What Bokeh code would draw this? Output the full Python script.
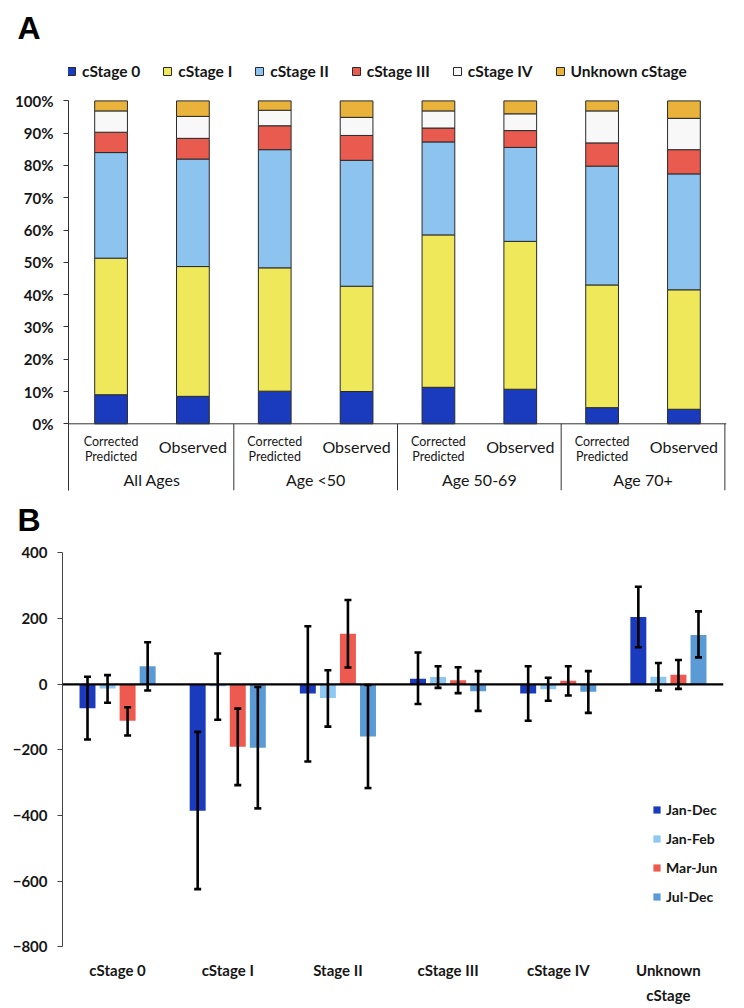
from bokeh.plotting import figure
from bokeh.models import (FactorRange, Range1d, FixedTicker, NumeralTickFormatter, Span,
                          Legend, LegendItem, Whisker, ColumnDataSource, TeeHead)
from bokeh.layouts import column
from bokeh.transform import dodge
from bokeh.core.properties import value
from bokeh.embed import file_html
from bokeh.resources import INLINE

# ---------------- Panel A data (percent of cases) ----------------
age_groups = ["All Ages", "Age <50", "Age 50-69", "Age 70+"]
estimates = ["Corrected Predicted", "Observed"]
stage_names = ["cStage 0", "cStage I", "cStage II", "cStage III", "cStage IV", "Unknown cStage"]
pct_stage0 = [9.0, 8.5, 10.1, 10.0, 11.3, 10.7, 5.0, 4.5]
pct_stage1 = [42.3, 40.2, 38.2, 32.6, 47.2, 45.8, 38.0, 37.0]
pct_stage2 = [32.7, 33.3, 36.6, 39.0, 28.8, 29.1, 36.8, 35.9]
pct_stage3 = [6.3, 6.4, 7.4, 7.7, 4.3, 5.2, 7.2, 7.5]
pct_stage4 = [6.6, 6.8, 4.8, 5.6, 5.3, 5.2, 9.9, 9.7]
pct_unknown = [3.1, 4.8, 2.9, 5.1, 3.1, 4.0, 3.1, 5.4]
y_ticks_a = [0, 0.1, 0.2, 0.3, 0.4, 0.5, 0.6, 0.7, 0.8, 0.9, 1.0]

# ---------------- Panel B data (difference, with interval) ----------------
b_categories = ["cStage 0", "cStage I", "Stage II", "cStage III", "cStage IV", "Unknown cStage"]
periods = ["Jan-Dec", "Jan-Feb", "Mar-Jun", "Jul-Dec"]
diff_jan_dec = [-73, -385, -28, 17, -28, 205]
lo_jan_dec = [-168, -624, -235, -60, -111, 113]
hi_jan_dec = [23, -145, 177, 97, 55, 297]
diff_jan_feb = [-13, -6, -42, 22, -15, 23]
lo_jan_feb = [-56, -108, -129, -11, -50, -19]
hi_jan_feb = [28, 94, 43, 55, 20, 65]
diff_mar_jun = [-111, -190, 154, 12, 11, 29]
lo_mar_jun = [-156, -307, 51, -27, -34, -14]
hi_mar_jun = [-70, -74, 257, 52, 55, 74]
diff_jul_dec = [55, -193, -159, -21, -23, 150]
lo_jul_dec = [-19, -378, -316, -81, -87, 82]
hi_jul_dec = [128, -8, -2, 40, 40, 222]
y_ticks_b = [-800, -600, -400, -200, 0, 200, 400]

stage_colors = ["#1b3bbf", "#eee85a", "#8cc4ef", "#e95b4f", "#f8f8f8", "#e9b23a"]
period_colors = ["#1b3bbf", "#8dc8f2", "#ee5a50", "#5b9bd5"]

FONT = "Lato"
TXT = "#161616"


def style_title(p, text, offset, standoff, valign):
    p.title.text = text
    p.title.text_font = "Liberation Sans"
    p.title.text_font_style = "bold"
    p.title.text_font_size = "32px"
    p.title.text_color = "#000000"
    p.title.align = "left"
    p.title.vertical_align = valign
    p.title.offset = offset
    p.title.standoff = standoff


def no_align(p):
    try:
        p.frame_align = False
    except Exception:
        pass


# ======================= Panel A =======================
# page-pixel helper (layout only)
def ya(py):
    return (423.3 - py) / 322.9

factors_a = [(g, e) for g in age_groups for e in estimates]
xr_a = FactorRange(factors=factors_a, factor_padding=0, group_padding=0,
                   range_padding=0.02, range_padding_units="absolute")
pa = figure(width=744, height=492, x_range=xr_a, y_range=Range1d(ya(490), ya(52)),
            output_backend="svg", toolbar_location=None, x_axis_location=None,
            min_border_left=68, min_border_right=18, min_border_top=52, min_border_bottom=2)
no_align(pa)
pa.outline_line_color = None
pa.xgrid.visible = False
pa.ygrid.visible = False
style_title(pa, "A", -51, 10, "top")

stack_keys = ["s0", "s1", "s2", "s3", "s4", "s5"]
src_a = ColumnDataSource(dict(
    x=factors_a,
    s0=[v / 100 for v in pct_stage0],
    s1=[v / 100 for v in pct_stage1],
    s2=[v / 100 for v in pct_stage2],
    s3=[v / 100 for v in pct_stage3],
    s4=[v / 100 for v in pct_stage4],
    s5=[v / 100 for v in pct_unknown],
))
rs_a = pa.vbar_stack(stack_keys, x="x", width=0.4, source=src_a,
                     fill_color=stage_colors, line_color="#2a2a2a", line_width=1)

ya_axis = pa.yaxis[0]
ya_axis.ticker = FixedTicker(ticks=y_ticks_a)
ya_axis.formatter = NumeralTickFormatter(format="0%")
ya_axis.bounds = (ya(490), 1.0)
ya_axis.minor_tick_line_color = None
ya_axis.major_tick_in = 0
ya_axis.major_tick_out = 5
ya_axis.axis_line_color = "#333333"
ya_axis.major_tick_line_color = "#333333"
ya_axis.major_label_text_font = FONT
ya_axis.major_label_text_font_style = "bold"
ya_axis.major_label_text_font_size = "15px"
ya_axis.major_label_text_color = TXT
ya_axis.major_label_standoff = 10

pa.add_layout(Span(location=0, dimension="width", line_color="#333333", line_width=1))
pa.segment(x0=[2, 4, 6, 8], x1=[2, 4, 6, 8], y0=0, y1=ya(490),
           line_color="#333333", line_width=1)

cp_x = [(g, estimates[0]) for g in age_groups]
ob_x = [(g, estimates[1]) for g in age_groups]
first_word, second_word = estimates[0].split(" ")
pa.text(x=cp_x, y=ya(440.7), text=[first_word] * 4, text_align="center", text_baseline="middle",
        text_font=value(FONT), text_font_size="12.5px", text_color=TXT)
pa.text(x=cp_x, y=ya(455.5), text=[second_word] * 4, text_align="center", text_baseline="middle",
        text_font=value(FONT), text_font_size="12.5px", text_color=TXT)
pa.text(x=ob_x, y=ya(446), text=[estimates[1]] * 4, text_align="center", text_baseline="middle",
        text_font=value(FONT), text_font_size="16px", text_color=TXT)
pa.text(x=[1, 3, 5, 7], y=ya(479), text=age_groups, text_align="center", text_baseline="middle",
        text_font=value(FONT), text_font_size="16px", text_color=TXT)

leg_a = Legend(items=[LegendItem(label=n, renderers=[r]) for n, r in zip(stage_names, rs_a)],
               orientation="horizontal", location=(-2, 409), padding=0, margin=0, spacing=22,
               glyph_width=10, glyph_height=10, label_standoff=6, label_height=20,
               label_text_font=FONT, label_text_font_style="bold", label_text_font_size="15.5px",
               label_text_color=TXT, border_line_alpha=0, background_fill_alpha=0)
pa.add_layout(leg_a)

# ======================= Panel B =======================
def yb(py):
    return (683.8 - py) / 0.3283

xr_b = FactorRange(factors=b_categories, factor_padding=0, range_padding=0)
pb = figure(width=744, height=514, x_range=xr_b, y_range=Range1d(yb(1006), yb(542)),
            output_backend="svg", toolbar_location=None, x_axis_location=None,
            min_border_left=62, min_border_right=21, min_border_top=50, min_border_bottom=0)
no_align(pb)
pb.outline_line_color = None
pb.xgrid.visible = False
pb.ygrid.visible = False
style_title(pb, "B", -45, 10, "bottom")

src_b = ColumnDataSource(dict(
    cat=b_categories,
    d0=diff_jan_dec, l0=lo_jan_dec, h0=hi_jan_dec,
    d1=diff_jan_feb, l1=lo_jan_feb, h1=hi_jan_feb,
    d2=diff_mar_jun, l2=lo_mar_jun, h2=hi_mar_jun,
    d3=diff_jul_dec, l3=lo_jul_dec, h3=hi_jul_dec,
))
offsets = [-0.273, -0.091, 0.091, 0.273]
bar_rs = []
for i, (per, col, off) in enumerate(zip(periods, period_colors, offsets)):
    r = pb.vbar(x=dodge("cat", off, range=pb.x_range), top=f"d{i}", bottom=0, width=0.145,
                source=src_b, fill_color=col, line_color=None)
    bar_rs.append(r)

pb.add_layout(Span(location=0, dimension="width", line_color="#000000", line_width=2.2,
                   level="annotation"))

for i, off in enumerate(offsets):
    w = Whisker(base=dodge("cat", off, range=pb.x_range), upper=f"h{i}", lower=f"l{i}",
                source=src_b, line_color="#000000", line_width=2.6, level="annotation",
                upper_head=TeeHead(size=7, line_width=2.6, line_color="#000000"),
                lower_head=TeeHead(size=7, line_width=2.6, line_color="#000000"))
    pb.add_layout(w)

yb_axis = pb.yaxis[0]
yb_axis.ticker = FixedTicker(ticks=y_ticks_b)
yb_axis.bounds = (-800, 400)
yb_axis.minor_tick_line_color = None
yb_axis.major_tick_in = 0
yb_axis.major_tick_out = 5
yb_axis.axis_line_color = "#444444"
yb_axis.major_tick_line_color = "#444444"
yb_axis.major_label_text_font = FONT
yb_axis.major_label_text_font_style = "bold"
yb_axis.major_label_text_font_size = "15px"
yb_axis.major_label_text_color = TXT
yb_axis.major_label_standoff = 10

cat_text = [c.replace("Unknown ", "Unknown\n") for c in b_categories]
pb.text(x=b_categories, y=yb(960), text=cat_text, text_align="center", text_baseline="top",
        text_line_height=1.4, text_font=value(FONT), text_font_style="bold",
        text_font_size="15px", text_color=TXT)

leg_b = Legend(items=[LegendItem(label=n, renderers=[r]) for n, r in zip(periods, bar_rs)],
               orientation="vertical", location=(590, 100), padding=0, margin=0, spacing=9,
               glyph_width=9, glyph_height=9, label_standoff=5, label_height=20,
               label_text_font=FONT, label_text_font_style="bold", label_text_font_size="14px",
               label_text_color=TXT, border_line_alpha=0, background_fill_alpha=0)
pb.add_layout(leg_b)

layout = column(pa, pb, spacing=0)
open("out.html", "w").write(file_html(layout, INLINE))
